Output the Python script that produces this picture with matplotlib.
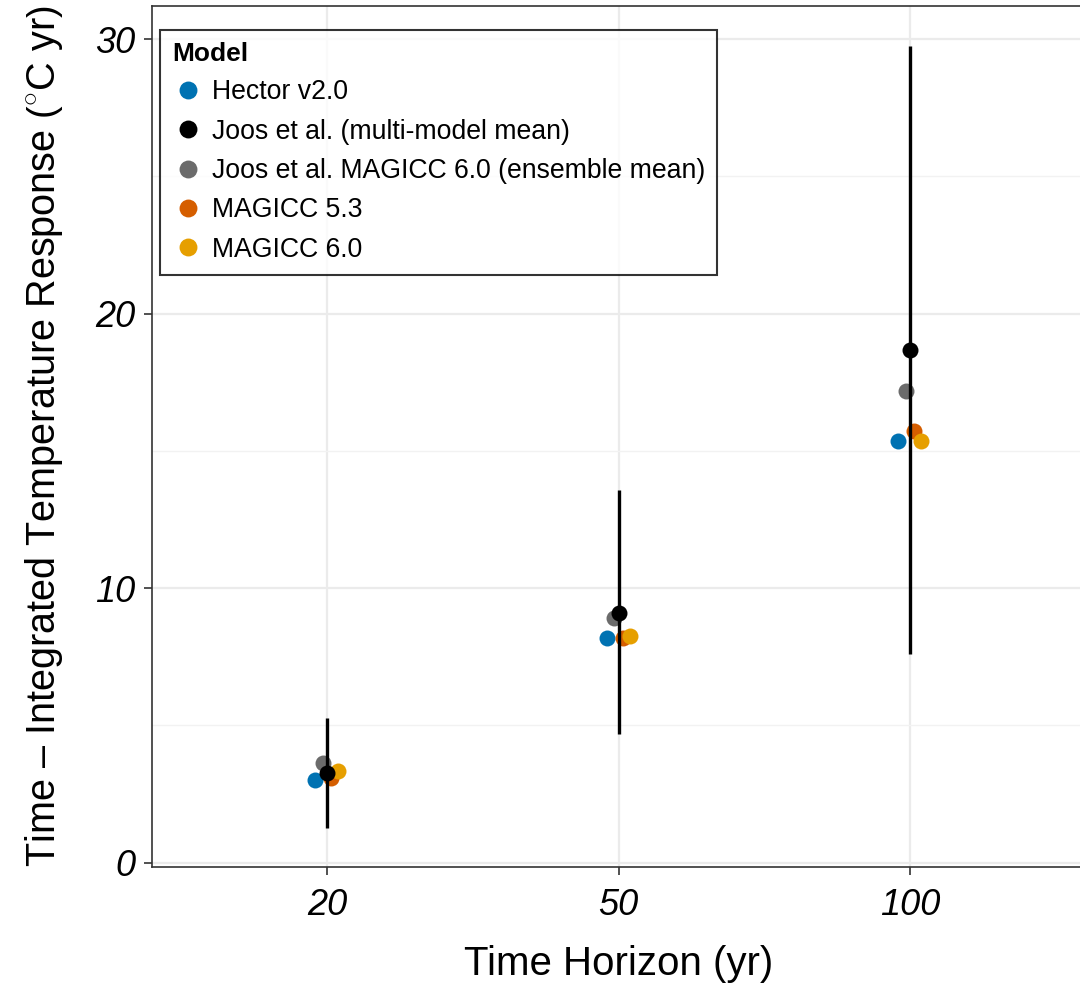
import matplotlib

matplotlib.use("Agg")
import matplotlib.pyplot as plt  # noqa: E402
from matplotlib.ticker import MultipleLocator  # noqa: E402

# time horizons (yr) and integrated temperature response per model
horizons = ["20", "50", "100"]
hector = [3.01, 8.20, 15.36]
joos_mm = [3.26, 9.09, 18.68]
joos_mm_lo = [1.25, 4.69, 7.60]
joos_mm_hi = [5.28, 13.58, 29.76]
joos_magicc6 = [3.62, 8.91, 17.19]
magicc53 = [3.09, 8.17, 15.73]
magicc60 = [3.35, 8.24, 15.36]

plt.rcParams["font.family"] = ["Liberation Sans", "DejaVu Sans"]
plt.rcParams["mathtext.fontset"] = "custom"
plt.rcParams["mathtext.rm"] = "Liberation Sans"
plt.rcParams["mathtext.it"] = "Liberation Sans:italic"

fig = plt.figure(figsize=(10.8, 9.83), dpi=100)
ax = fig.add_axes([152 / 1080, 1 - 867 / 983, 933 / 1080, 861 / 983])

x = list(range(len(horizons)))
ms = 11.5

# small horizontal dodge per model
series = [
    ("Hector v2.0", hector, "#0072B2", -0.04),
    ("Joos et al. MAGICC 6.0 (ensemble mean)", joos_magicc6, "#6B6B6B", -0.014),
    ("MAGICC 5.3", magicc53, "#D55E00", 0.014),
    ("MAGICC 6.0", magicc60, "#E69F00", 0.038),
]
handles = {}
for name, vals, col, dx in series:
    (h,) = ax.plot([xi + dx for xi in x], vals, "o", ms=ms, color=col,
                   mec="none", ls="none", zorder=3, label=name)
    handles[name] = h

ax.vlines(x, joos_mm_lo, joos_mm_hi, color="black", lw=2.4, zorder=4)
(h,) = ax.plot(x, joos_mm, "o", ms=ms, color="black", mec="none", ls="none",
               zorder=5, label="Joos et al. (multi-model mean)")
handles["Joos et al. (multi-model mean)"] = h

order = ["Hector v2.0", "Joos et al. (multi-model mean)",
         "Joos et al. MAGICC 6.0 (ensemble mean)", "MAGICC 5.3", "MAGICC 6.0"]
leg = ax.legend([handles[k] for k in order], order, title="Model",
                loc="upper left", bbox_to_anchor=(0.0086, 0.972),
                borderaxespad=0, fontsize=19.2,
                title_fontproperties={"weight": "bold", "size": 19},
                frameon=True, fancybox=False, edgecolor="black",
                handletextpad=0.3, labelspacing=0.5, borderpad=0.45,
                handlelength=1.2, markerscale=1.12)
leg._legend_box.align = "left"
leg.get_frame().set_linewidth(1.5)
leg.set_zorder(10)

ax.set_xlim(-0.6, 2.6)
ax.set_ylim(-0.16, 31.21)
ax.set_xticks(x)
ax.set_xticklabels(horizons)
ax.yaxis.set_major_locator(MultipleLocator(10))
ax.yaxis.set_minor_locator(MultipleLocator(5))

ax.grid(which="major", color="#EBEBEB", lw=1.6, zorder=0)
ax.grid(which="minor", axis="y", color="#F2F2F2", lw=1.0, zorder=0)
ax.set_axisbelow(True)
for sp in ax.spines.values():
    sp.set_color("#333333")
    sp.set_linewidth(1.2)

ax.tick_params(which="major", length=6, width=1.2, color="#333333",
               labelsize=26, pad=6)
ax.tick_params(axis="x", which="major", pad=9)
ax.tick_params(which="minor", length=0)
for lab in ax.get_xticklabels() + ax.get_yticklabels():
    lab.set_style("italic")

ax.set_xlabel("Time Horizon (yr)", fontsize=29, labelpad=16)
ax.set_ylabel(r"Time – Integrated Temperature Response $\left(^{\circ}\mathrm{C\ yr}\right)$",
              fontsize=28.5, labelpad=22)

fig.savefig("out.png", dpi=100)
